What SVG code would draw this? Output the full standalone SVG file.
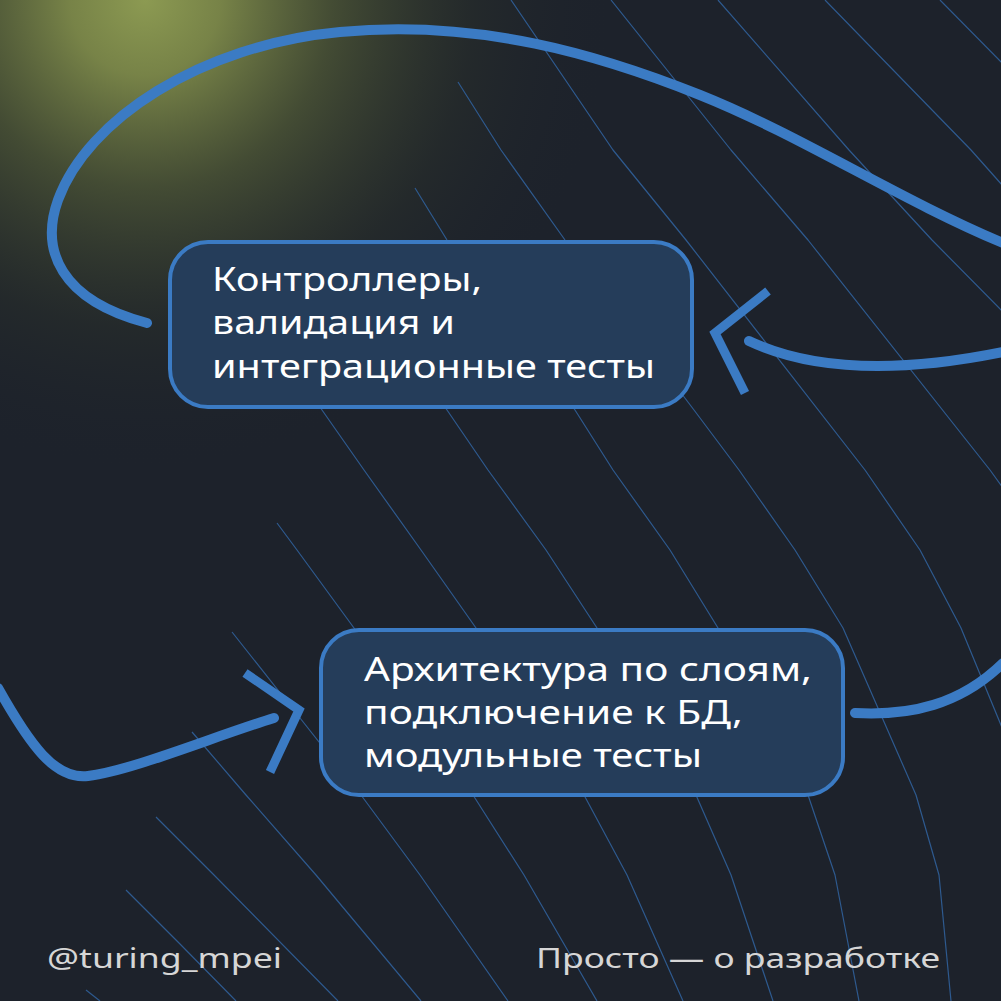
<svg xmlns="http://www.w3.org/2000/svg" width="1001" height="1001" viewBox="0 0 1001 1001">
  <defs>
    <radialGradient id="glow" gradientUnits="userSpaceOnUse" cx="145" cy="0" r="470">
      <stop offset="0" stop-color="#8c9a52" stop-opacity="1"/>
      <stop offset="0.16" stop-color="#7c8849" stop-opacity="0.95"/>
      <stop offset="0.4" stop-color="#4d5636" stop-opacity="0.8"/>
      <stop offset="0.7" stop-color="#2c322b" stop-opacity="0.45"/>
      <stop offset="1" stop-color="#1d222b" stop-opacity="0"/>
    </radialGradient>
    <style>
      .bgl{fill:none;stroke:#2e5a8f;stroke-width:1.2;stroke-linejoin:round}
      .conn{fill:none;stroke:#3b7bc4;stroke-width:10;stroke-linecap:round}
      .chev{fill:none;stroke:#3b7bc4;stroke-width:9;stroke-linecap:butt;stroke-linejoin:miter;stroke-miterlimit:10}
      .box{fill:#253d5a;stroke:#3b7bc4;stroke-width:4}
      .lbl{font-family:"Noto Sans","Open Sans","DejaVu Sans",sans-serif;font-size:32px;fill:#ffffff}
      .foot{font-family:"Noto Sans","Open Sans","DejaVu Sans",sans-serif;font-size:28px;fill:#d6d6d6}
    </style>
  </defs>

  <rect x="0" y="0" width="1001" height="1001" fill="#1d222b"/>
  <rect x="0" y="0" width="1001" height="1001" fill="url(#glow)"/>

  <g id="background-lines">
    <polyline class="bgl" points="86,990 100,1001"/>
    <polyline class="bgl" points="126,890 180,944 236,1001"/>
    <polyline class="bgl" points="156,817 214,875 338,1001"/>
    <polyline class="bgl" points="192,732 246,795 316,875 421,1001"/>
    <polyline class="bgl" points="232,632 300,718 361,795 420,875 508,1001"/>
    <polyline class="bgl" points="277,523 297,550 354,628 473,795 524,875 597,1001"/>
    <polyline class="bgl" points="266,330 322,410 364,470 421,550 476,628 584,795 627,875 683,1001"/>
    <polyline class="bgl" points="370,300 447,410 488,470 546,550 597,628 696,795 731,875 773,1001"/>
    <polyline class="bgl" points="415,188 447,240 575,410 613,470 670,550 718,628 808,795 835,875 859,1001"/>
    <polyline class="bgl" points="458,82 501,150 565,240 694,410 739,470 795,550 843,628 916,795 939,875 951,1001"/>
    <polyline class="bgl" points="511,0 613,150 686,240 865,470 920,550 961,628 1003,730"/>
    <polyline class="bgl" points="611,0 731,150 808,240 990,470 1003,488"/>
    <polyline class="bgl" points="718,0 849,150 932,240 1003,312"/>
    <polyline class="bgl" points="825,0 971,150 1003,186"/>
    <polyline class="bgl" points="940,0 1003,64"/>
  </g>

  <g id="connectors">
    <path class="conn" d="M147,323 C60,300 40,250 58,200 C87,120 200,45 340,32 C480,19 600,55 700,95 C800,135 900,200 1003,243"/>
    <path class="conn" d="M749,341 C800,365 880,377 1003,352"/>
    <polyline class="chev" points="768,291 715,333 745,393"/>
    <path class="conn" d="M-2,688 C30,745 55,780 88,776 C130,771 210,738 274,718"/>
    <polyline class="chev" points="245,673 299,710 270,772"/>
    <path class="conn" d="M855,713 C910,716 960,705 1003,663"/>
  </g>

  <g id="node-controllers">
    <rect class="box" x="170" y="242" width="522" height="165" rx="38" ry="38"/>
    <text class="lbl" x="212" y="291" textLength="270" lengthAdjust="spacingAndGlyphs">Контроллеры,</text>
    <text class="lbl" x="212" y="334" textLength="243" lengthAdjust="spacingAndGlyphs">валидация и</text>
    <text class="lbl" x="212" y="378" textLength="443" lengthAdjust="spacingAndGlyphs">интеграционные тесты</text>
  </g>

  <g id="node-architecture">
    <rect class="box" x="321" y="630" width="522" height="165" rx="38" ry="38"/>
    <text class="lbl" x="364" y="681" textLength="448" lengthAdjust="spacingAndGlyphs">Архитектура по слоям,</text>
    <text class="lbl" x="364" y="724" textLength="379" lengthAdjust="spacingAndGlyphs">подключение к БД,</text>
    <text class="lbl" x="364" y="767" textLength="338" lengthAdjust="spacingAndGlyphs">модульные тесты</text>
  </g>

  <g id="footer">
    <text class="foot" x="47" y="968" textLength="235" lengthAdjust="spacingAndGlyphs">@turing_mpei</text>
    <text class="foot" x="536" y="968" textLength="404" lengthAdjust="spacingAndGlyphs">Просто — о разработке</text>
  </g>
</svg>
